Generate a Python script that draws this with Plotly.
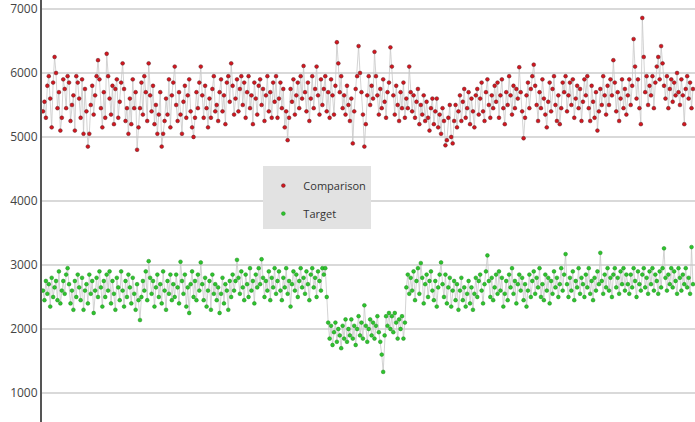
import plotly.graph_objects as go

# Comparison series (one reading per sample)
comparison = [
    5400, 5550, 5300, 5800, 5950, 5600, 5150, 5850, 6250, 6000, 5450, 5700, 5100, 5300, 5900,
    5750, 5450, 5950, 5850, 5250, 5500, 5650, 5100, 5950, 5850, 5600, 5300, 5900, 5050, 5750,
    5400, 4850, 5050, 5500, 5800, 5350, 5650, 5950, 6200, 5900, 5450, 5150, 5700, 5300, 6300,
    5950, 5600, 5350, 5800, 5200, 5750, 5900, 5300, 5550, 5850, 6150, 5750, 5250, 5450, 5050,
    5600, 5200, 5900, 5450, 5700, 4800, 5150, 5450, 5850, 5350, 5950, 5700, 5250, 6150, 5650,
    5400, 5800, 5200, 5500, 5050, 5350, 5700, 4850, 5050, 5250, 5600, 5350, 5900, 5150, 5650,
    5850, 6100, 5500, 5250, 5700, 5350, 5050, 5550, 5800, 5300, 5650, 5900, 5400, 5150, 5000,
    5300, 5700, 5450, 5850, 6100, 5650, 5300, 5800, 5450, 5150, 5600, 5300, 5750, 5950, 5400,
    5500, 5250, 5700, 5900, 5400, 5650, 5200, 5850, 5950, 5550, 6150, 5800, 5350, 5600, 5900,
    5400, 5750, 5950, 5500, 5850, 5300, 5700, 5950, 5450, 5650, 5200, 5850, 5600, 5350, 5800,
    5900, 5500, 5750, 5250, 5650, 5950, 5400, 5700, 5300, 5850, 5550, 5950, 5300, 5600, 5850,
    5450, 5750, 5150, 5400, 4950, 5300, 5750, 5550, 5900, 5350, 5650, 5850, 5450, 5950, 5600,
    6110, 5700, 5400, 5850, 5250, 5600, 5950, 5450, 5750, 6100, 5650, 5350, 5900, 5500, 5750,
    5950, 5400, 5700, 5300, 5900, 5650, 5350, 5800, 6480, 6150, 5700, 5950, 5450, 5650, 5350,
    5800, 5500, 5250, 5600, 4900, 5400, 5750, 5950, 6420, 6000, 5700, 5350, 4850, 5200, 5650,
    5950, 5500, 5800, 5600, 6330, 5950, 5650, 5350, 5750, 5450, 5900, 5550, 5300, 5700, 5850,
    6400, 6100, 5650, 5350, 5800, 5500, 5250, 5700, 5450, 5850, 5300, 5600, 5450, 6100, 5700,
    5400, 5650, 5300, 5550, 5750, 5200, 5500, 5350, 5650, 5250, 5550, 5300, 5100, 5450, 5600,
    5200, 5400, 5600, 5150, 5350, 5050, 5450, 5250, 4870, 4950, 5300, 5500, 5000, 4900, 5250,
    5500, 5150, 5400, 5650, 5250, 5550, 5750, 5300, 5450, 5700, 5200, 5600, 5400, 5150, 5650,
    5750, 5350, 5600, 5850, 5400, 5250, 5700, 5900, 5500, 5300, 5650, 5450, 5800, 5550, 5850,
    5300, 5650, 5900, 5450, 5200, 5700, 5500, 5950, 5650, 5350, 5800, 5450, 5750, 5600, 6090,
    5700, 5400, 4980, 5300, 5650, 5850, 5450, 5750, 5950, 6130, 5800, 5500, 5250, 5700, 5450,
    5900, 5600, 5350, 5150, 5550, 5850, 5400, 5750, 5950, 5500, 5250, 5650, 5200, 5450, 5850,
    5700, 5950, 5400, 5650, 5850, 5500, 5900, 5300, 5600, 5800, 5450, 5750, 5250, 5550, 5900,
    5650, 5950, 5450, 5250, 5800, 5550, 5300, 5700, 5100, 5400, 5750, 5500, 5950, 5650, 5350,
    5800, 5500, 5900, 5650, 6200, 5850, 5400, 5700, 5250, 5600, 5900, 5450, 5750, 5350, 5650,
    5900, 5500, 5800, 6530, 6100, 5600, 5900, 5450, 5200, 6860, 6250, 5700, 5950, 5500, 5800,
    5650, 5950, 5450, 5850, 6100, 6250, 5900, 6420, 6150, 5800, 5600, 5950, 5450, 5750, 5900,
    5550, 5850, 5650, 6000, 5700, 5500, 5900, 5650, 5200, 5750, 5950, 5600, 5850, 5450, 5750,
]

# Target series (same sampling)
target = [
    2600, 2450, 2750, 2550, 2700, 2350, 2800, 2500, 2650, 2750, 2450, 2900, 2400, 2600, 2750,
    2550, 2850, 2950, 2700, 2400, 2600, 2300, 2750, 2500, 2850, 2650, 2450, 2800, 2300, 2600,
    2700, 2400, 2850, 2550, 2750, 2250, 2600, 2800, 2500, 2900, 2650, 2350, 2750, 2500, 2850,
    2600, 2900, 2400, 2750, 2550, 2300, 2800, 2650, 2450, 2900, 2600, 2350, 2750, 2500, 2850,
    2650, 2400, 2800, 2550, 2300, 2700, 2450, 2140, 2500, 2750, 2600, 2900, 2450, 3060, 2800,
    2550, 2750, 2350, 2650, 2850, 2500, 2700, 2400, 2900, 2600, 2300, 2750, 2550, 2850, 2450,
    2700, 2500, 2850, 2650, 2400, 3050, 2750, 2550, 2850, 2350, 2650, 2250, 2700, 2900, 2500,
    2750, 2450, 2850, 2600, 3040, 2700, 2450, 2800, 2350, 2600, 2750, 2300, 2850, 2550, 2700,
    2450, 2650, 2250, 2550, 2800, 2400, 2700, 2600, 2300, 2750, 2500, 2850, 2600, 2750, 3080,
    2800, 2550, 2900, 2650, 2450, 2850, 2700, 2500, 2950, 2600, 2750, 2400, 2850, 2650, 2950,
    2700, 3090, 2800, 2500, 2750, 2600, 2900, 2450, 2800, 2650, 2950, 2550, 2750, 2900, 2600,
    2450, 2800, 2650, 2950, 2550, 2750, 2350, 2700, 2900, 2600, 2850, 2500, 2750, 2950, 2650,
    2800, 2550, 2900, 2700, 2450, 2850, 2950, 2650, 2800, 2500, 2900, 2750, 2600, 2950, 2850,
    2950, 2500, 2100, 1850, 2050, 1750, 1950, 2100, 1800, 2000, 1900, 1700, 2050, 1850, 2150,
    1800, 2000, 1900, 2150, 1850, 2050, 1750, 2000, 2200, 1900, 2100, 1850, 2370, 2050, 1800,
    2000, 2150, 1900, 2100, 1850, 2050, 2200, 1950, 1800, 1600, 1330, 1900, 2200, 2050, 2250,
    2000, 2200, 1950, 2250, 2100, 1850, 2150, 2000, 2200, 1850, 2100, 2650, 2850, 2550, 2800,
    2600, 2900, 2450, 2750, 2950, 2550, 3030, 2800, 2400, 2700, 2850, 2500, 2750, 2900, 2600,
    2450, 2750, 2350, 2650, 2850, 3040, 2700, 2500, 2850, 2400, 2650, 2800, 2350, 2600, 2750,
    2450, 2700, 2300, 2600, 2800, 2450, 2650, 2350, 2550, 2750, 2400, 2650, 2300, 2550, 2800,
    2500, 2750, 2850, 2600, 2400, 2700, 2900, 3150, 2750, 2500, 2800, 2450, 2650, 2850, 2550,
    2900, 2600, 2800, 2350, 2550, 2750, 2450, 2850, 2650, 2950, 2550, 2750, 2400, 2700, 2850,
    2600, 2800, 2450, 2700, 2350, 2600, 2850, 2500, 2750, 2900, 2550, 2800, 2650, 2950, 2500,
    2700, 2450, 2850, 2600, 2800, 2400, 2750, 2550, 2900, 2650, 2800, 2500, 2700, 2950, 2600,
    2850, 3170, 2700, 2500, 2800, 2600, 2900, 2450, 2750, 2650, 2950, 2550, 2800, 2700, 2500,
    2850, 2650, 2950, 2550, 2750, 2450, 2800, 2600, 2900, 2700, 3190, 2750, 2550, 2850, 2650,
    2950, 2600, 2800, 2500, 2850, 2950, 2650, 2800, 2550, 2900, 2700, 2950, 2600, 2850, 2700,
    2550, 2850, 2650, 2950, 2750, 2500, 2900, 2700, 2600, 2850, 2950, 2650, 2800, 2550, 2900,
    2700, 2950, 2600, 2850, 2750, 2550, 2900, 2650, 2950, 3260, 2800, 2600, 2850, 2700, 2950,
    2650, 2900, 2750, 2550, 2950, 2800, 2600, 2850, 2700, 2950, 2650, 2800, 2550, 3280, 2700,
]

y_ticks = [1000, 2000, 3000, 4000, 5000, 6000, 7000]

samples = list(range(len(comparison)))

series = [
    ("Comparison", comparison, "#d4161e", "#5e2228"),
    ("Target", target, "#2ec42e", "#1f8a1f"),
]

fig = go.Figure()
for name, values, fill, edge in series:
    # thin grey joining line
    fig.add_trace(go.Scatter(
        x=samples, y=values, mode="lines",
        line=dict(color="#c8c8c8", width=0.8),
        showlegend=False, hoverinfo="skip",
    ))
for name, values, fill, edge in series:
    fig.add_trace(go.Scatter(
        x=samples, y=values, mode="markers", name=name,
        legendgroup=name,
        marker=dict(size=3.8, color=fill, line=dict(color=edge, width=0.5)),
    ))

fig.update_layout(
    width=695, height=422,
    margin=dict(l=42, r=0, t=0, b=0),
    plot_bgcolor="white", paper_bgcolor="white",
    font=dict(family="Open Sans, sans-serif", color="#333333"),
    legend=dict(
        x=0.339, y=0.607, xanchor="left", yanchor="top",
        bgcolor="#e2e2e2", borderwidth=0,
        font=dict(size=11, color="#333333"),
        title=dict(text=" ", font=dict(size=4)),
        tracegroupgap=9, itemsizing="trace", entrywidth=72,
    ),
    xaxis=dict(
        range=[-0.69, 450.4], showgrid=False, zeroline=False,
        showticklabels=False, ticks="", showline=False,
    ),
    yaxis=dict(
        range=[547, 7140], tickvals=y_ticks,
        ticktext=[str(v) for v in y_ticks],
        showgrid=True, gridcolor="#d9d9d9", gridwidth=1.5,
        zeroline=False, showline=True, linecolor="#555555", linewidth=2,
        ticks="", tickfont=dict(size=12, color="#444444"),
    ),
)

fig.write_html("out.html")
